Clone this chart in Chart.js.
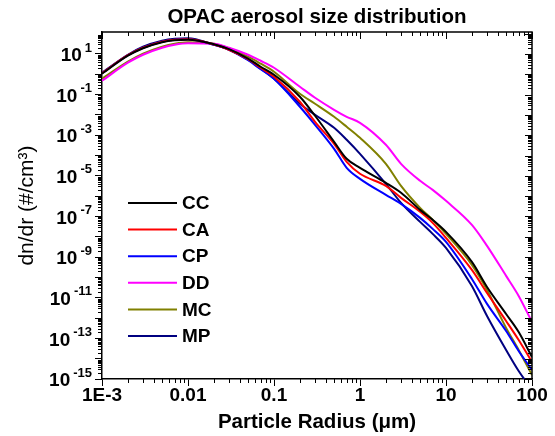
<!DOCTYPE html>
<html>
<head>
<meta charset="utf-8">
<script src="https://cdn.jsdelivr.net/npm/chart.js@4.4.0/dist/chart.umd.min.js"></script>
<style>
  html, body { margin: 0; padding: 0; background: #fff; }
  #wrap { width: 555px; height: 436px; }
</style>
</head>
<body>
<div id="wrap"><canvas id="chart_opacSizeDistribution"></canvas></div>
<script>
// particle radius (um)
var radius = [0.001, 0.002, 0.003, 0.005, 0.007, 0.01, 0.02, 0.03, 0.05, 0.07, 0.1, 0.2, 0.3, 0.5, 0.7,
              1, 2, 3, 5, 7, 10, 20, 30, 50, 70, 100];

// dn/dr (#/cm3) per aerosol type
var cc = [1.06, 8.15, 19.1, 37.7, 47.3, 50.1, 30.1, 17.1, 5.81, 2.34, 0.944, 0.078, 9.04e-3, 4.73e-4, 6.87e-5,
          2.48e-5, 4.52e-6, 1.46e-6, 2.11e-7, 6.81e-8, 1.74e-8, 5.81e-10, 3.40e-11, 1.59e-12, 2.07e-13, 1.21e-14];
var ca = [1.12, 8.63, 20.2, 39.9, 50.1, 53.0, 29.0, 16.1, 5.48, 2.09, 0.753, 0.0442, 4.57e-3, 3.77e-4, 4.90e-5,
          1.26e-5, 3.21e-6, 8.24e-7, 1.69e-7, 4.84e-8, 8.83e-9, 2.34e-10, 1.72e-11, 7.19e-13, 8.34e-14, 6.87e-15];
var cp = [1.12, 8.63, 20.2, 39.9, 50.1, 53.0, 28.4, 16.1, 4.89, 1.76, 0.600, 0.0251, 3.25e-3, 2.14e-4, 2.48e-5,
          7.11e-6, 1.16e-6, 4.18e-7, 8.53e-8, 2.45e-8, 5.61e-9, 8.43e-11, 4.96e-12, 2.32e-13, 2.39e-14, 2.77e-15];
var dd = [0.479, 3.69, 9.14, 20.2, 28.4, 33.7, 31.8, 20.2, 9.14, 4.62, 2.09, 0.242, 0.0695, 0.0178, 8.05e-3,
          4.08e-3, 3.37e-4, 3.90e-5, 5.67e-6, 2.04e-6, 5.86e-7, 3.85e-8, 3.56e-9, 1.19e-10, 1.23e-11, 6.43e-13];
var mc = [0.60, 4.13, 10.2, 22.6, 31.8, 37.7, 31.8, 19.1, 7.28, 3.29, 1.33, 0.109, 0.0352, 8.05e-3, 2.60e-3,
          7.45e-4, 3.90e-5, 3.21e-6, 2.65e-7, 6.81e-8, 1.39e-8, 4.13e-10, 2.42e-11, 3.25e-13, 2.69e-14, 1.57e-15];
var mp = [1.19, 9.1, 22.6, 44.7, 56.1, 59.3, 28.4, 16.1, 5.18, 1.87, 0.600, 0.0352, 0.0101, 2.32e-3, 5.93e-4,
          1.21e-4, 4.04e-6, 4.68e-7, 5.42e-8, 1.39e-8, 2.84e-9, 3.81e-11, 1.27e-12, 2.69e-14, 2.48e-15, 3e-16];

var seriesNames = ['CC', 'CA', 'CP', 'DD', 'MC', 'MP'];
var seriesValues = [cc, ca, cp, dd, mc, mp];
var seriesColors = ['#000000', '#ff0000', '#0000ff', '#ff00ff', '#808000', '#000080'];

var xTickValues = [0.001, 0.01, 0.1, 1, 10, 100];
var xTickLabels = ['1E-3', '0.01', '0.1', '1', '10', '100'];
var yTickExponents = [1, -1, -3, -5, -7, -9, -11, -13, -15];

var FONT = '"Liberation Sans", Arial, sans-serif';

function toPoints(values) {
    return radius.map(function (r, i) { return { x: r, y: values[i] }; });
}

var frameAndLabels = {
    id: 'frameAndLabels',
    beforeDraw: function (chart) {
        var ctx = chart.ctx;
        ctx.save();
        ctx.fillStyle = 'white';
        ctx.fillRect(0, 0, chart.width, chart.height);
        ctx.restore();
    },
    afterDraw: function (chart) {
        var ctx = chart.ctx, a = chart.chartArea;
        var xs = chart.scales.x, ys = chart.scales.y;
        ctx.save();
        ctx.strokeStyle = '#000';

        // top + right frame
        ctx.lineWidth = 1.5;
        ctx.beginPath();
        ctx.moveTo(a.left, a.top);
        ctx.lineTo(a.right, a.top);
        ctx.lineTo(a.right, a.bottom);
        ctx.stroke();

        // minor + mirrored ticks
        ctx.lineWidth = 1;
        ctx.beginPath();
        var d, m, v, p, len;
        for (d = -3; d <= 2; d++) {
            for (m = 1; m <= 9; m++) {
                v = m * Math.pow(10, d);
                if (v > xs.max * 1.0001) break;
                p = Math.round(xs.getPixelForValue(v)) + 0.5;
                len = m === 1 ? 7 : 4;
                ctx.moveTo(p, a.top);
                ctx.lineTo(p, a.top + len);
                if (m > 1) {
                    ctx.moveTo(p, a.bottom);
                    ctx.lineTo(p, a.bottom + 4);
                }
            }
        }
        for (d = -15; d <= 2; d++) {
            for (m = 1; m <= 9; m++) {
                v = m * Math.pow(10, d);
                if (v > ys.max) break;
                p = Math.round(ys.getPixelForValue(v)) + 0.5;
                len = m === 1 ? 7 : 4;
                ctx.moveTo(a.right, p);
                ctx.lineTo(a.right - len, p);
                if (m > 1) {
                    ctx.moveTo(a.left, p);
                    ctx.lineTo(a.left - 4, p);
                }
            }
        }
        ctx.stroke();

        // y tick labels with superscript exponents
        ctx.fillStyle = '#000';
        ctx.textAlign = 'right';
        ctx.textBaseline = 'middle';
        yTickExponents.forEach(function (e) {
            var py = ys.getPixelForValue(Math.pow(10, e));
            var ex = String(e);
            ctx.font = 'bold 13px ' + FONT;
            ctx.fillText(ex, a.left - 10, py - 6);
            var w = ctx.measureText(ex).width;
            ctx.font = 'bold 19px ' + FONT;
            ctx.fillText('10', a.left - 10 - w - 3, py + 2);
        });

        // title
        ctx.textAlign = 'center';
        ctx.font = 'bold 20.5px ' + FONT;
        ctx.fillText('OPAC aerosol size distribution', (a.left + a.right) / 2, 17);

        // legend inside the plot
        ctx.textAlign = 'left';
        ctx.font = 'bold 19px ' + FONT;
        chart.data.datasets.forEach(function (ds, i) {
            var ly = 203 + i * 26.6;
            ctx.strokeStyle = ds.borderColor;
            ctx.lineWidth = 2;
            ctx.beginPath();
            ctx.moveTo(128, ly);
            ctx.lineTo(177, ly);
            ctx.stroke();
            ctx.fillText(ds.label, 182, ly + 1);
        });
        ctx.restore();
    }
};

var chart_opacSizeDistribution = new Chart(document.getElementById('chart_opacSizeDistribution'), {
    type: 'line',
    data: {
        datasets: seriesNames.map(function (name, i) {
            return {
                label: name,
                data: toPoints(seriesValues[i]),
                borderColor: seriesColors[i],
                backgroundColor: seriesColors[i],
                borderWidth: 2,
                pointRadius: 0,
                cubicInterpolationMode: 'monotone',
                fill: false
            };
        })
    },
    options: {
        animation: false,
        responsive: true,
        maintainAspectRatio: false,
        layout: { padding: { top: 32, right: 23, left: 0, bottom: 0 } },
        plugins: {
            legend: { display: false },
            title: { display: false },
            tooltip: { enabled: false }
        },
        scales: {
            x: {
                type: 'logarithmic',
                min: 0.001,
                max: 100,
                afterBuildTicks: function (scale) {
                    scale.ticks = xTickValues.map(function (v) { return { value: v }; });
                },
                afterFit: function (scale) { scale.height = 57; },
                grid: { drawOnChartArea: false, drawTicks: true, tickLength: 7, tickColor: '#000', tickWidth: 1 },
                border: { display: true, color: '#000', width: 1.5 },
                ticks: {
                    autoSkip: false,
                    maxRotation: 0,
                    padding: -2,
                    color: '#000',
                    font: { family: FONT, size: 19, weight: 'bold' },
                    callback: function (value) {
                        var i = xTickValues.indexOf(value);
                        return i >= 0 ? xTickLabels[i] : '';
                    }
                },
                title: {
                    display: true,
                    text: 'Particle Radius (\u03bcm)',
                    color: '#000',
                    font: { family: FONT, size: 20.5, weight: 'bold' },
                    padding: { top: 0, bottom: 1 }
                }
            },
            y: {
                type: 'logarithmic',
                min: 1e-15,
                max: 120,
                afterBuildTicks: function (scale) {
                    var t = [];
                    for (var e = -15; e <= 1; e++) t.push({ value: Math.pow(10, e) });
                    scale.ticks = t;
                },
                afterFit: function (scale) { scale.width = 102; },
                grid: { drawOnChartArea: false, drawTicks: true, tickLength: 7, tickColor: '#000', tickWidth: 1 },
                border: { display: true, color: '#000', width: 1.5 },
                ticks: {
                    autoSkip: false,
                    callback: function () { return ''; }
                },
                title: {
                    display: true,
                    text: 'dn/dr (#/cm\u00b3)',
                    color: '#000',
                    font: { family: FONT, size: 21, weight: 'normal' },
                    padding: { top: 15, bottom: 0 }
                }
            }
        }
    },
    plugins: [frameAndLabels]
});
</script>
</body>
</html>
